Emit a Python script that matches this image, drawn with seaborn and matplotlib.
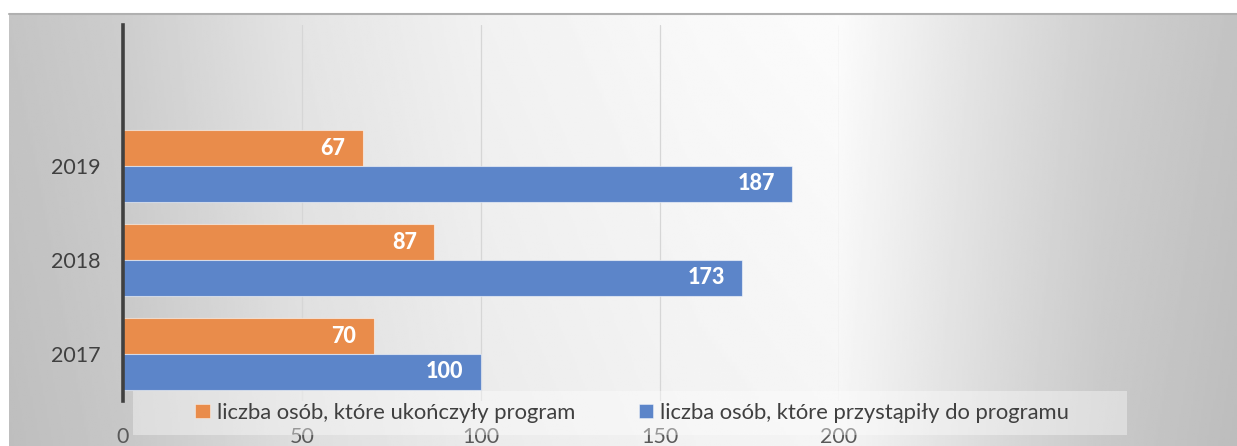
import numpy as np
import pandas as pd
import matplotlib
matplotlib.use("Agg")
import matplotlib.pyplot as plt
from matplotlib.patches import Patch, Rectangle
from matplotlib.lines import Line2D
import seaborn as sns

# ---- data ----
years = ["2019", "2018", "2017"]
series = ["liczba osób, które ukończyły program",
          "liczba osób, które przystąpiły do programu"]
ukonczyly = [67, 87, 70]
przystapily = [187, 173, 100]
x_ticks = [0, 50, 100, 150, 200]
colors = ["#E98C4B", "#5C85C9"]

df = pd.DataFrame({
    "rok": years * 2,
    "seria": [series[0]] * 3 + [series[1]] * 3,
    "liczba": ukonczyly + przystapily,
})

sns.set_theme(style="white")
plt.rcParams["font.family"] = ["Lato", "DejaVu Sans"]

W, H = 1237, 446
fig = plt.figure(figsize=(W / 100, H / 100), dpi=100)
fig.patch.set_facecolor("white")

# ---- background gradient (decoration) ----
bg = fig.add_axes([9 / W, 0, 1 - 9 / W, (H - 13) / H], zorder=-10)
xs = np.linspace(9, W, 600)
ys = np.linspace(0, 1, 100)
stops_x = [9, 123, 300, 480, 700, 840, 1000, 1100, 1237]
stops_v = [0.745, 0.78, 0.87, 0.92, 0.95, 0.96, 0.85, 0.79, 0.74]
row = np.interp(xs, stops_x, stops_v)
img = row[None, :] + 0.025 * ys[:, None]
img = np.clip(img, 0, 1)
bg.imshow(img, cmap="gray", vmin=0, vmax=1, aspect="auto",
          extent=[0, 1, 0, 1], origin="lower")
bg.set_axis_off()
fig.add_artist(Line2D([9 / W, 1], [1 - 13.5 / H, 1 - 13.5 / H],
                      color="#b0b0b0", lw=1.5, transform=fig.transFigure))

# ---- main axes ----
ax = fig.add_axes([123 / W, 1 - 401 / H, (839 - 123) / W, (401 - 25) / H])
ax.set_facecolor("none")
sns.barplot(data=df, y="rok", x="liczba", hue="seria", order=years,
            hue_order=series, palette=colors, orient="h", width=0.76,
            gap=0, ax=ax, legend=False, saturation=1,
            edgecolor=(1, 1, 1, 0.55), linewidth=0.8, zorder=3)

ax.set_xlim(0, 200)
ax.set_ylim(2.5, -1.5)
ax.set_xticks(x_ticks)
ax.set_xticklabels([str(t) for t in x_ticks])
ax.set_xlabel("")
ax.set_ylabel("")
for s in ["top", "right", "bottom"]:
    ax.spines[s].set_visible(False)
ax.spines["left"].set_color("#404040")
ax.spines["left"].set_linewidth(2.6)
ax.spines["left"].set_zorder(5)
ax.grid(axis="x", color="#d6d6d6", lw=0.9, zorder=0)
ax.grid(axis="y", visible=False)
ax.tick_params(axis="x", length=0, pad=19, labelsize=15.5, labelcolor="#595959")
ax.tick_params(axis="y", length=0, pad=16, labelsize=15.5, labelcolor="#404040")

# data labels inside end
for cont in ax.containers:
    for p in cont.patches:
        w = p.get_width()
        ax.annotate(f"{w:.0f}", (p.get_x() + w, p.get_y() + p.get_height() / 2),
                    xytext=(-12.5, 0), textcoords="offset points",
                    ha="right", va="center", color="white",
                    fontsize=15.5, fontweight="black", zorder=6)

# ---- legend ----
fig.add_artist(Rectangle((133 / W, 1 - 435 / H), (1127 - 133) / W, 44 / H,
                         transform=fig.transFigure, facecolor="white",
                         alpha=0.38, edgecolor="none", zorder=1))
handles = [Patch(facecolor=c, edgecolor=(1, 1, 1, 0.5), lw=0.6) for c in colors]
leg = fig.legend(handles, series, loc="center",
                 bbox_to_anchor=(632 / W, 1 - 413 / H), ncol=2, frameon=False,
                 fontsize=15.8, handlelength=0.66, handleheight=0.62,
                 handletextpad=0.3, columnspacing=2.9, labelcolor="#404040")

fig.savefig("out.png", dpi=100)
